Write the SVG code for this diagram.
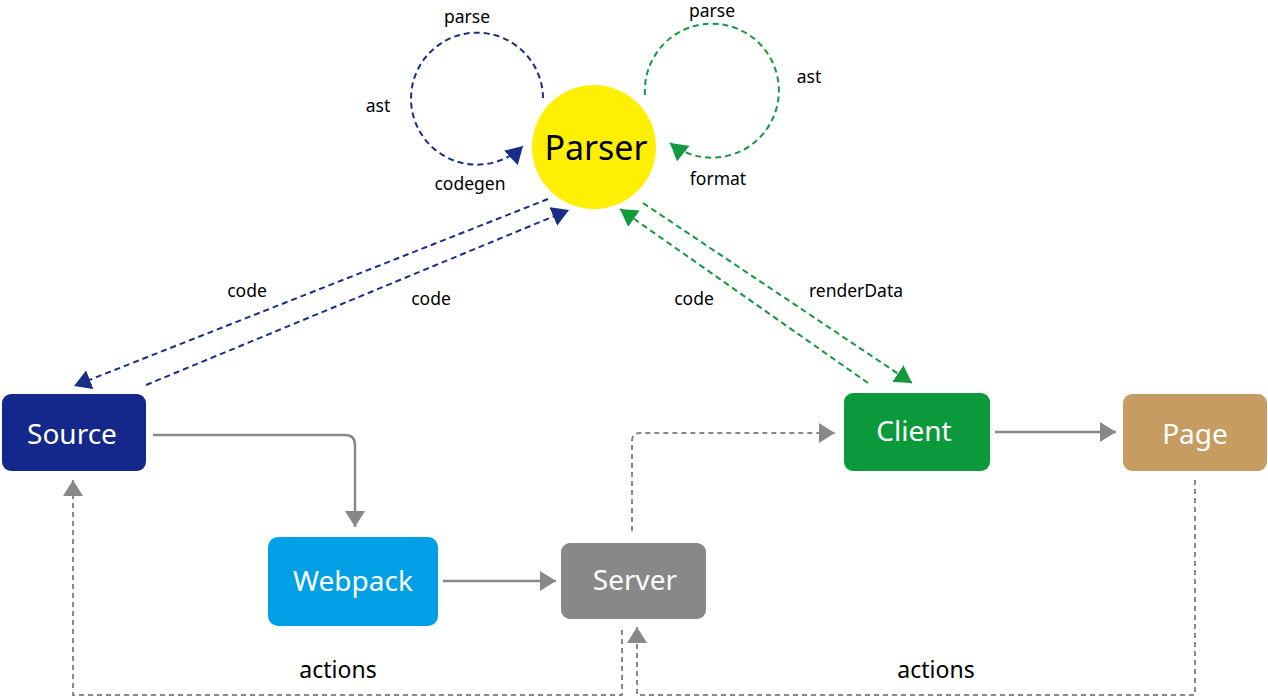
<svg xmlns="http://www.w3.org/2000/svg" width="1268" height="697" viewBox="0 0 1268 697">
<style>
text{font-family:"Noto Sans","Open Sans","Liberation Sans",sans-serif;}
.lbl{font-size:17.5px;fill:#000;text-anchor:middle;}
.act{font-size:23px;fill:#000;text-anchor:middle;}
.nt{font-size:28px;fill:#fff;text-anchor:middle;}
.blue{fill:none;stroke:#1B2E85;stroke-width:2;stroke-dasharray:6 4;}
.green{fill:none;stroke:#14993F;stroke-width:2;stroke-dasharray:6 4;}
.gs{fill:none;stroke:#888;stroke-width:2.5;}
.gd{fill:none;stroke:#888;stroke-width:2;stroke-dasharray:5 4;}
</style>
<defs>
<marker id="ab" markerUnits="userSpaceOnUse" markerWidth="18" markerHeight="20" refX="17" refY="10" orient="auto"><path d="M0,0 L17,10 L0,20 z" fill="#1B2E85"/></marker>
<marker id="ag" markerUnits="userSpaceOnUse" markerWidth="18" markerHeight="20" refX="17" refY="10" orient="auto"><path d="M0,0 L17,10 L0,20 z" fill="#14993F"/></marker>
<marker id="ay" markerUnits="userSpaceOnUse" markerWidth="18" markerHeight="20" refX="16" refY="10" orient="auto"><path d="M0,0 L16,10 L0,20 z" fill="#888"/></marker>
</defs>
<g id="connectors">
<path class="blue" d="M543,98 A66,66 0 1 0 523,146" marker-end="url(#ab)"/>
<path class="green" d="M645,95 A67,67 0 1 1 670,143" marker-end="url(#ag)"/>
<path class="blue" d="M548,199 L74,386" marker-end="url(#ab)"/>
<path class="blue" d="M146,385 L569,210" marker-end="url(#ab)"/>
<path class="green" d="M868,383 L620,209" marker-end="url(#ag)"/>
<path class="green" d="M643,203 L912,383" marker-end="url(#ag)"/>
<path class="gs" d="M153,435 L345,435 Q355,435 355,445 L355,527" marker-end="url(#ay)"/>
<path class="gs" d="M443,581 L556,581" marker-end="url(#ay)"/>
<path class="gd" d="M632,531 L632,441 Q632,433 640,433 L835,433" marker-end="url(#ay)"/>
<path class="gs" d="M995,432 L1116,432" marker-end="url(#ay)"/>
<path class="gd" d="M1195,480 L1195,695 L637,695 L637,627" marker-end="url(#ay)"/>
<path class="gd" d="M622,630 L622,695 L73,695 L73,480" marker-end="url(#ay)"/>
<text class="lbl" x="467" y="23">parse</text>
<text class="lbl" x="378" y="112">ast</text>
<text class="lbl" x="470" y="190">codegen</text>
<text class="lbl" x="712" y="17">parse</text>
<text class="lbl" x="809" y="83">ast</text>
<text class="lbl" x="718" y="185">format</text>
<text class="lbl" x="247" y="297">code</text>
<text class="lbl" x="431" y="305">code</text>
<text class="lbl" x="694" y="305">code</text>
<text class="lbl" x="856" y="297">renderData</text>
<text class="act" x="338" y="678">actions</text>
<text class="act" x="936" y="678">actions</text>
</g>
<g id="parser">
<circle cx="594" cy="147" r="62" fill="#FFEF00"/>
<text x="596" y="160" font-size="34" text-anchor="middle" fill="#000">Parser</text>
</g>
<g id="source">
<rect x="2" y="394" width="144" height="77" rx="9" fill="#13288A"/>
<text class="nt" x="72" y="444">Source</text>
</g>
<g id="webpack">
<rect x="268" y="537" width="170" height="89" rx="10" fill="#009FE6"/>
<text class="nt" x="353" y="591">Webpack</text>
</g>
<g id="server">
<rect x="561" y="543" width="145" height="76" rx="9" fill="#888888"/>
<text class="nt" x="635" y="590">Server</text>
</g>
<g id="client">
<rect x="844" y="393" width="146" height="78" rx="9" fill="#0A9A3C"/>
<text class="nt" x="914" y="441">Client</text>
</g>
<g id="page">
<rect x="1123" y="394" width="144" height="77" rx="9" fill="#C69C62"/>
<text class="nt" x="1195" y="444">Page</text>
</g>
</svg>
